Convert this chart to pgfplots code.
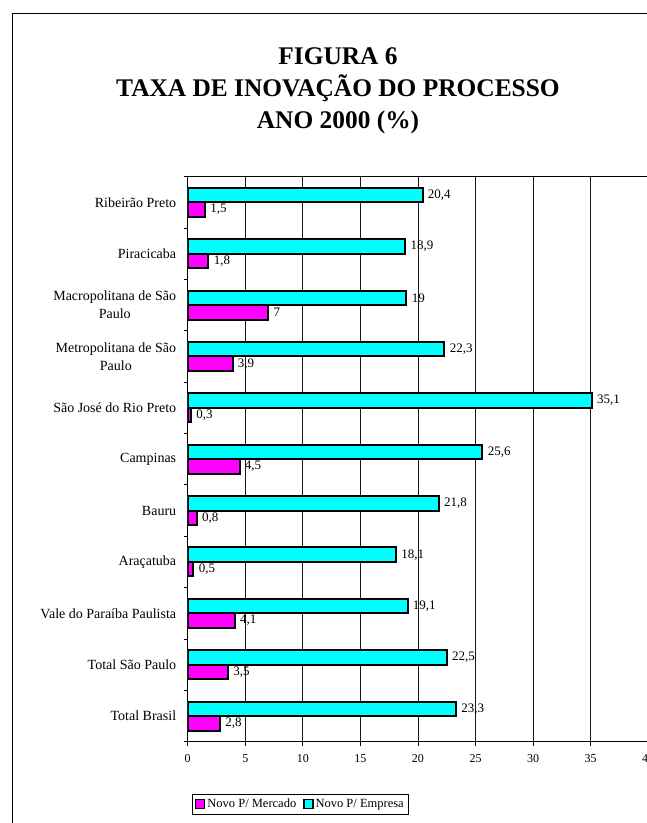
\documentclass[border=0pt]{standalone}
\usepackage{fontspec}
\setmainfont{Liberation Serif}
\usepackage{pgfplots}
\usepackage{pgfplotstable}
\pgfplotsset{compat=1.18}
\definecolor{cyanbar}{RGB}{0,255,255}
\definecolor{magbar}{RGB}{255,0,255}
\pgfplotstableread{
cat mercado empresa
1 2.8 23.3
2 3.5 22.5
3 4.1 19.1
4 0.5 18.1
5 0.8 21.8
6 4.5 25.6
7 0.3 35.1
8 3.9 22.3
9 7 19
10 1.8 18.9
11 1.5 20.4
}\datatable
\begin{document}
\begin{tikzpicture}
\useasboundingbox (0pt,0pt) rectangle (647pt,-823pt);
\clip (0pt,0pt) rectangle (647pt,-823pt);
\draw[line width=1pt] (12.4pt,-13.3pt) rectangle (700pt,-900pt);
\node[align=center, font=\fontsize{25.4}{32}\selectfont\bfseries] at (338pt,-91pt)
  {FIGURA 6\\TAXA DE INOVAÇÃO DO PROCESSO\\ANO 2000 (\%)};
\begin{axis}[
  at={(187.7pt,-741.7pt)}, anchor=south west,
  scale only axis, width=460.5pt, height=565pt,
  xmin=0, xmax=40, ymin=0.5, ymax=11.5,
  xbar=0pt, bar width=14.5pt,
  axis line style={line width=0.9pt, black},
  xtick={0,5,...,40},
  xmajorgrids, grid style={black!90, line width=0.7pt},
  tick align=outside, major tick length=4pt, minor tick length=4pt,
  tick style={black, line width=0.8pt},
  xtick pos=bottom, ytick pos=left,
  ytick={1,...,11},
  minor ytick={0.5,1.5,...,11.5},
  major y tick style={draw=none},
  yticklabels={{Total Brasil},{Total São Paulo},{Vale do Paraíba Paulista},{Araçatuba},{Bauru},{Campinas},{São José do Rio Preto},{Metropolitana de São\\Paulo},{Macropolitana de São\\Paulo},{Piracicaba},{Ribeirão Preto}},
  yticklabel style={align=center, font=\fontsize{14}{18}\selectfont, xshift=-4pt},
  xticklabel style={font=\fontsize{12}{12}\selectfont, yshift=-5pt},
  /pgf/number format/assume math mode=true,
  /pgf/number format/use comma,
  nodes near coords,
  every node near coord/.append style={font=\fontsize{13}{13}\selectfont, black, xshift=1pt},
  legend columns=2,
  legend style={at={(0.0087,-0.092)}, anchor=north west, draw=black, line width=0.8pt,
    font=\fontsize{12.5}{12.5}\selectfont, inner sep=3pt,
    /tikz/every even column/.append style={column sep=5pt}},
  legend image code/.code={\draw[#1, line width=1.3pt] (0pt,-4.5pt) rectangle (9pt,4.5pt);},
]
\addplot[fill=magbar, draw=black, line width=2pt] table[x=mercado, y=cat] {\datatable};
\addplot[fill=cyanbar, draw=black, line width=2pt] table[x=empresa, y=cat] {\datatable};
\legend{Novo P/ Mercado, Novo P/ Empresa}
\end{axis}
\end{tikzpicture}
\end{document}
